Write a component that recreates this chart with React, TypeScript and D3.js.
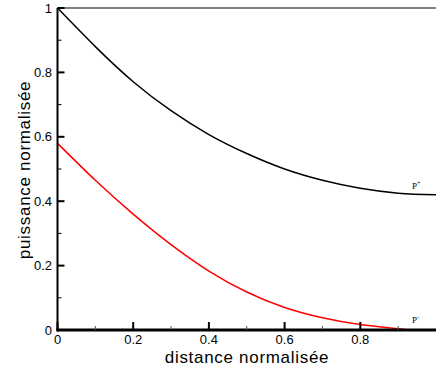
import React from "react";
import * as d3 from "d3";

const xValues = [0, 0.1, 0.2, 0.3, 0.4, 0.5, 0.6, 0.7, 0.8, 0.9, 1.0];
const pPlus = [1.0, 0.88, 0.771, 0.681, 0.607, 0.548, 0.5, 0.465, 0.44, 0.425, 0.42];
const xMinus = [0, 0.1, 0.2, 0.3, 0.4, 0.5, 0.6, 0.7, 0.8, 0.9, 0.92];
const pMinus = [0.58, 0.465, 0.36, 0.265, 0.183, 0.118, 0.07, 0.038, 0.017, 0.004, 0.0];
const xTicks = [0, 0.2, 0.4, 0.6, 0.8];
const xTickLabels = ["0", "0.2", "0.4", "0.6", "0.8"];
const yTicks = [0, 0.2, 0.4, 0.6, 0.8, 1];
const yTickLabels = ["0", "0.2", "0.4", "0.6", "0.8", "1"];
const minorTicks = [0.1, 0.3, 0.5, 0.7, 0.9];
const xTitle = "distance normalisée";
const yTitle = "puissance normalisée";

export default function App() {
  const W = 436, H = 370;
  const x = d3.scaleLinear().domain([0, 1]).range([57.5, 436]);
  const y = d3.scaleLinear().domain([0, 1]).range([330, 8]);
  const line = d3.line<[number, number]>().x(d => x(d[0])).y(d => y(d[1])).curve(d3.curveNatural);
  const plusPath = line(xValues.map((v, i) => [v, pPlus[i]]) as [number, number][]) || "";
  const minusPath = line(xMinus.map((v, i) => [v, pMinus[i]]) as [number, number][]) || "";
  const font = "'Liberation Sans', Arial, sans-serif";
  return (
    <svg width={W} height={H} style={{ position: "absolute", left: 0, top: 0, background: "#fff" }}>
      <rect x={0} y={0} width={W} height={H} fill="#fff" />
      <line x1={x(0)} x2={W} y1={y(1)} y2={y(1)} stroke="#000" strokeWidth={1} />
      <path d={plusPath} fill="none" stroke="#000" strokeWidth={1.5} />
      <path d={minusPath} fill="none" stroke="#ff0000" strokeWidth={1.5} />
      <line x1={x(0)} x2={x(0)} y1={y(0) + 1.5} y2={y(1)} stroke="#000" strokeWidth={2} />
      {yTicks.map((t, i) => (
        <g key={"yt" + i}>
          <line x1={x(0)} x2={x(0) + 7} y1={y(t)} y2={y(t)} stroke="#000" strokeWidth={2} />
          <text x={52} y={y(t)} dy="0.35em" textAnchor="end" fontFamily={font} fontSize={13} fill="#000">
            {yTickLabels[i]}
          </text>
        </g>
      ))}
      {minorTicks.map((t, i) => (
        <line key={"ym" + i} x1={x(0)} x2={x(0) + 4} y1={y(t)} y2={y(t)} stroke="#000" strokeWidth={1} />
      ))}
      <line x1={x(0) - 1} x2={W} y1={y(0)} y2={y(0)} stroke="#000" strokeWidth={3} />
      {xTicks.map((t, i) => (
        <g key={"xt" + i}>
          <line x1={x(t)} x2={x(t)} y1={y(0)} y2={y(0) - 8} stroke="#000" strokeWidth={2} />
          <text x={x(t)} y={344} textAnchor="middle" fontFamily={font} fontSize={13} fill="#000">
            {xTickLabels[i]}
          </text>
        </g>
      ))}
      {minorTicks.map((t, i) => (
        <line key={"xm" + i} x1={x(t)} x2={x(t)} y1={y(0)} y2={y(0) - 4} stroke="#555" strokeWidth={1} />
      ))}
      <text x={247} y={363} textAnchor="middle" fontFamily={font} fontSize={17} letterSpacing={0.7} fill="#000">{xTitle}</text>
      <text transform={`translate(30,${170}) rotate(-90)`} textAnchor="middle" fontFamily={font} fontSize={17} letterSpacing={0.7} fill="#000">{yTitle}</text>
      <text x={412} y={189} fontFamily="'Liberation Serif', 'DejaVu Serif', serif" fontSize={9} fill="#000">
        P<tspan dy={-4} fontSize={6}>+</tspan>
      </text>
      <text x={412} y={323} fontFamily="'Liberation Serif', 'DejaVu Serif', serif" fontSize={9} fill="#000">
        P<tspan dy={-4} fontSize={6}>-</tspan>
      </text>
    </svg>
  );
}
